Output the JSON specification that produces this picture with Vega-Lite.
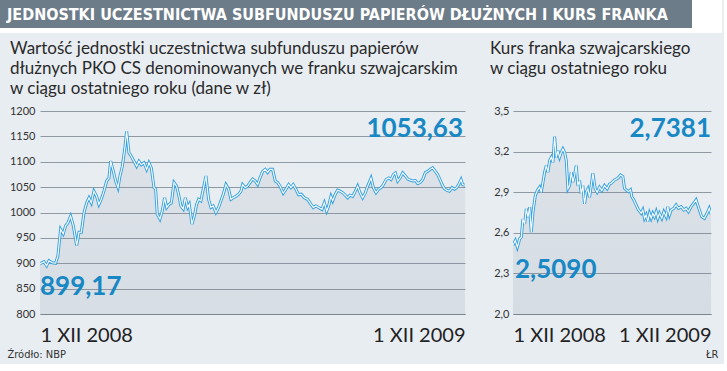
{
  "$schema": "https://vega.github.io/schema/vega-lite/v6.json",
  "background": "#e8edf2",
  "padding": {"left": 0, "top": 0, "right": 2, "bottom": 5},
  "config": {
    "view": {"stroke": null},
    "font": "Lato",
    "axis": {"labelFont": "Lato", "labelColor": "#2a2a2a"}
  },
  "spacing": 7,
  "vconcat": [
    {
      "width": 652,
      "height": 33,
      "encoding": {
        "x": {"field": "x0", "type": "quantitative", "scale": {"domain": [0, 652], "nice": false, "zero": false}, "axis": null},
        "y": {"field": "y0", "type": "quantitative", "scale": {"domain": [0, 33], "nice": false}, "axis": null}
      },
      "layer": [
        {
          "data": {"values": [{"x0": -40, "x1": 682, "y0": 0, "y1": 33}]},
          "mark": {"type": "rect", "color": "#ffffff", "clip": false},
          "encoding": {"x2": {"field": "x1"}, "y2": {"field": "y1"}}
        },
        {
          "data": {"values": [{"x0": -40, "x1": 652, "y0": 5, "y1": 33}]},
          "mark": {"type": "rect", "color": "#6d7c89", "clip": false},
          "encoding": {"x2": {"field": "x1"}, "y2": {"field": "y1"}}
        },
        {
          "data": {"values": [{"x0": -40, "y0": 19, "t": "JEDNOSTKI UCZESTNICTWA SUBFUNDUSZU PAPIERÓW DŁUŻNYCH I KURS FRANKA"}]},
          "mark": {"type": "text", "align": "left", "baseline": "middle", "dx": 7, "dy": 1, "font": "DejaVu Sans Condensed", "fontWeight": "bold", "fontSize": 16, "color": "#ffffff"},
          "encoding": {"text": {"field": "t"}}
        }
      ]
    },
    {
      "spacing": 18,
      "hconcat": [
        {
          "width": 425,
          "height": 203,
          "title": {
            "text": ["Wartość jednostki uczestnictwa subfunduszu papierów", "dłużnych PKO CS denominowanych we franku szwajcarskim", "w ciągu ostatniego roku (dane w zł)"],
            "anchor": "start", "frame": "bounds", "dx": 10, "fontSize": 17, "lineHeight": 20,
            "font": "Lato", "fontWeight": "normal", "color": "#2a2a2a", "offset": 7
          },
          "data": {"values": [
            {"d":0,"v":899.17},{"d":3.4,"v":903},{"d":5.7,"v":895},{"d":7.7,"v":905},{"d":10.6,"v":901},{"d":13.4,"v":900},{"d":15.4,"v":915},{"d":17.7,"v":967},{"d":20,"v":958},{"d":22,"v":974},{"d":24,"v":980},{"d":26.3,"v":993},{"d":28.6,"v":974},{"d":31.5,"v":935},{"d":33.5,"v":961},{"d":35.5,"v":961},{"d":37.8,"v":1000},{"d":40.1,"v":1019},{"d":42.1,"v":1029},{"d":44.1,"v":1019},{"d":46.3,"v":1042},{"d":48.6,"v":1032},{"d":50.6,"v":1016},{"d":52.6,"v":1026},{"d":54.9,"v":1042},{"d":57.2,"v":1062},{"d":59.2,"v":1068},{"d":60.7,"v":1101},{"d":63,"v":1081},{"d":65,"v":1062},{"d":67,"v":1049},{"d":68.7,"v":1072},{"d":70.7,"v":1091},{"d":72.7,"v":1124},{"d":74.4,"v":1160},{"d":76.4,"v":1118},{"d":78.4,"v":1111},{"d":80.7,"v":1101},{"d":83,"v":1091},{"d":85,"v":1101},{"d":87,"v":1094},{"d":89.3,"v":1098},{"d":91.6,"v":1085},{"d":93.6,"v":1098},{"d":95.6,"v":1088},{"d":97.9,"v":1049},{"d":99.3,"v":1046},{"d":100.7,"v":997},{"d":103,"v":987},{"d":105,"v":1003},{"d":107,"v":1029},{"d":108.8,"v":1010},{"d":110.8,"v":1016},{"d":112.8,"v":1019},{"d":115.1,"v":1059},{"d":117.3,"v":1052},{"d":119.4,"v":1032},{"d":121,"v":1013},{"d":123,"v":1007},{"d":124.8,"v":1029},{"d":126.8,"v":1010},{"d":128.2,"v":1016},{"d":130.5,"v":977},{"d":132.5,"v":993},{"d":134.5,"v":1016},{"d":136.2,"v":1026},{"d":138.2,"v":1023},{"d":140.2,"v":1046},{"d":142.5,"v":1072},{"d":144.8,"v":1026},{"d":146.8,"v":1010},{"d":148.8,"v":1013},{"d":151.1,"v":1000},{"d":153.4,"v":1010},{"d":155.4,"v":1023},{"d":157.4,"v":1036},{"d":159.7,"v":1055},{"d":162,"v":1046},{"d":164,"v":1026},{"d":166,"v":1029},{"d":168.3,"v":1032},{"d":170.6,"v":1036},{"d":172.6,"v":1042},{"d":174,"v":1055},{"d":176.3,"v":1049},{"d":178.3,"v":1052},{"d":180.3,"v":1059},{"d":182.6,"v":1066},{"d":184.9,"v":1062},{"d":186.9,"v":1055},{"d":188.9,"v":1068},{"d":191.2,"v":1081},{"d":193.5,"v":1085},{"d":195.5,"v":1079},{"d":197.5,"v":1085},{"d":199.8,"v":1085},{"d":202.1,"v":1062},{"d":204.1,"v":1059},{"d":206.1,"v":1052},{"d":208.9,"v":1038},{"d":211.2,"v":1046},{"d":213.5,"v":1055},{"d":215.5,"v":1049},{"d":217.5,"v":1055},{"d":219.8,"v":1046},{"d":222.1,"v":1035},{"d":224.4,"v":1036},{"d":227,"v":1029},{"d":229.8,"v":1026},{"d":232.7,"v":1016},{"d":234.7,"v":1010},{"d":237,"v":1013},{"d":239.3,"v":1010},{"d":242.1,"v":1006},{"d":244.2,"v":1019},{"d":246.2,"v":1003},{"d":247.9,"v":1013},{"d":249.9,"v":1032},{"d":251.4,"v":1023},{"d":253.6,"v":1036},{"d":255.6,"v":1044},{"d":257.7,"v":1042},{"d":259.9,"v":1039},{"d":262.2,"v":1034},{"d":264.2,"v":1029},{"d":266.2,"v":1034},{"d":268.5,"v":1032},{"d":270.8,"v":1042},{"d":272.8,"v":1052},{"d":274.8,"v":1039},{"d":277.1,"v":1029},{"d":279.4,"v":1039},{"d":281.4,"v":1052},{"d":284.3,"v":1068},{"d":286.3,"v":1049},{"d":288.6,"v":1039},{"d":290.9,"v":1046},{"d":292.9,"v":1049},{"d":294.9,"v":1055},{"d":297.2,"v":1065},{"d":299.5,"v":1068},{"d":301.5,"v":1065},{"d":303.5,"v":1075},{"d":305.2,"v":1078},{"d":307.2,"v":1062},{"d":309.2,"v":1068},{"d":311.5,"v":1078},{"d":313.8,"v":1072},{"d":315.8,"v":1066},{"d":317.8,"v":1064},{"d":320.1,"v":1062},{"d":322.4,"v":1063},{"d":324.4,"v":1057},{"d":326.4,"v":1059},{"d":328.7,"v":1065},{"d":331,"v":1079},{"d":333,"v":1081},{"d":335,"v":1085},{"d":337.2,"v":1088},{"d":339.5,"v":1081},{"d":341.5,"v":1075},{"d":343.5,"v":1065},{"d":345.3,"v":1055},{"d":347.3,"v":1047},{"d":349.3,"v":1044},{"d":351.6,"v":1042},{"d":353.9,"v":1049},{"d":355.9,"v":1046},{"d":357.9,"v":1049},{"d":359.6,"v":1055},{"d":361.6,"v":1065},{"d":363,"v":1055},{"d":365,"v":1053.63}
          ]},
          "encoding": {
            "x": {"field": "d", "type": "quantitative", "scale": {"domain": [0, 365], "nice": false},
              "axis": {"values": [0, 365], "labelExpr": "datum.value == 0 ? '1 XII 2008' : '1 XII 2009'", "labelFlush": true, "grid": false, "ticks": false, "domain": true, "domainColor": "#7d868e", "labelFontSize": 20, "labelColor": "#222222", "labelPadding": 11,
                "title": "Źródło: NBP", "titleAlign": "left", "titleX": -33, "titleY": 43, "titleFontSize": 11, "titleFont": "DejaVu Sans Condensed", "titleFontWeight": "normal", "titleColor": "#333333", "titleBaseline": "alphabetic"}},
            "y": {"field": "v", "type": "quantitative", "scale": {"domain": [800, 1200], "zero": false, "nice": false},
              "axis": {"values": [800, 850, 900, 950, 1000, 1050, 1100, 1150, 1200], "format": "d", "grid": true, "gridColor": "#8f99a2", "ticks": false, "domain": false, "labelFontSize": 11, "labelColor": "#333333", "labelPadding": 5, "minExtent": 40, "maxExtent": 40, "title": null}}
          },
          "layer": [
            {"mark": {"type": "area", "clip": true, "color": {"gradient": "linear", "x1": 0, "y1": 0, "x2": 0, "y2": 1, "stops": [{"offset": 0, "color": "rgba(120,135,150,0.10)"}, {"offset": 1, "color": "rgba(120,135,150,0.26)"}]}}},
            {"mark": {"type": "line", "color": "#36a2dd", "strokeWidth": 3, "clip": true}},
            {"mark": {"type": "line", "color": "#ffffff", "strokeWidth": 1.1, "clip": true}},
            {"data": {"values": [{"d": 0, "v": 837, "t": "899,17"}]},
             "mark": {"type": "text", "align": "left", "baseline": "alphabetic", "font": "Lato", "fontWeight": "bold", "fontSize": 26, "color": "#1888c5"},
             "encoding": {"text": {"field": "t"}}},
            {"data": {"values": [{"d": 365, "v": 1148, "t": "1053,63"}]},
             "mark": {"type": "text", "align": "right", "baseline": "alphabetic", "dx": -2, "font": "Lato", "fontWeight": "bold", "fontSize": 26, "color": "#1888c5"},
             "encoding": {"text": {"field": "t"}}}
          ]
        },
        {
          "width": 198,
          "height": 203,
          "title": {
            "text": ["Kurs franka szwajcarskiego", "w ciągu ostatniego roku", " "],
            "anchor": "start", "frame": "bounds", "dx": 7, "fontSize": 17, "lineHeight": 20,
            "font": "Lato", "fontWeight": "normal", "color": "#2a2a2a", "offset": 7
          },
          "data": {"values": [
            {"d":0,"v":2.509},{"d":4.3,"v":2.543},{"d":8,"v":2.494},{"d":12.3,"v":2.556},{"d":15.3,"v":2.568},{"d":18.4,"v":2.703},{"d":21.5,"v":2.666},{"d":24.5,"v":2.777},{"d":27.6,"v":2.716},{"d":30.7,"v":2.789},{"d":33.7,"v":2.605},{"d":36.8,"v":2.752},{"d":41.1,"v":2.875},{"d":44.8,"v":2.912},{"d":49.1,"v":2.937},{"d":52.2,"v":2.9},{"d":55.2,"v":2.974},{"d":58.3,"v":3.048},{"d":61.4,"v":3.097},{"d":64.4,"v":3.048},{"d":67.5,"v":3.134},{"d":70.6,"v":3.158},{"d":73.6,"v":3.121},{"d":76.7,"v":3.31},{"d":79.8,"v":3.158},{"d":82.8,"v":3.207},{"d":85.9,"v":3.158},{"d":89,"v":3.195},{"d":92,"v":3.22},{"d":95.1,"v":3.195},{"d":98.2,"v":3.134},{"d":101.2,"v":2.925},{"d":104.3,"v":2.949},{"d":107.4,"v":3.048},{"d":110.4,"v":2.974},{"d":113.5,"v":3.023},{"d":116.6,"v":3.097},{"d":119.6,"v":2.949},{"d":122.7,"v":2.986},{"d":125.8,"v":2.888},{"d":128.8,"v":2.949},{"d":131.9,"v":2.814},{"d":135,"v":2.9},{"d":138,"v":2.925},{"d":141.1,"v":2.863},{"d":144.2,"v":2.949},{"d":147.2,"v":3.04},{"d":151.5,"v":2.925},{"d":155.2,"v":2.9},{"d":159.5,"v":2.937},{"d":163.8,"v":2.912},{"d":168.7,"v":2.949},{"d":173.6,"v":2.925},{"d":177.9,"v":2.96},{"d":181,"v":2.966},{"d":187.2,"v":2.99},{"d":193.3,"v":3.003},{"d":198.2,"v":3.027},{"d":202.5,"v":3.015},{"d":205.6,"v":2.929},{"d":208.6,"v":2.917},{"d":212.9,"v":2.904},{"d":216.6,"v":2.917},{"d":219.1,"v":2.867},{"d":222.8,"v":2.843},{"d":227,"v":2.806},{"d":231.3,"v":2.769},{"d":236.3,"v":2.744},{"d":239.3,"v":2.769},{"d":242.4,"v":2.707},{"d":245.5,"v":2.732},{"d":248.5,"v":2.682},{"d":251.6,"v":2.744},{"d":254.7,"v":2.707},{"d":257.7,"v":2.744},{"d":260.8,"v":2.719},{"d":263.9,"v":2.756},{"d":266.9,"v":2.707},{"d":270,"v":2.744},{"d":274.3,"v":2.707},{"d":278,"v":2.756},{"d":282.3,"v":2.719},{"d":285.3,"v":2.793},{"d":288.4,"v":2.732},{"d":291.5,"v":2.769},{"d":296.4,"v":2.781},{"d":300.7,"v":2.806},{"d":305,"v":2.781},{"d":309.9,"v":2.793},{"d":314.8,"v":2.769},{"d":319.1,"v":2.781},{"d":323.4,"v":2.756},{"d":328.3,"v":2.793},{"d":333.2,"v":2.818},{"d":337.5,"v":2.843},{"d":340.5,"v":2.806},{"d":343.6,"v":2.769},{"d":347.9,"v":2.719},{"d":352.8,"v":2.707},{"d":357.7,"v":2.744},{"d":361.8,"v":2.781},{"d":365,"v":2.7381}
          ]},
          "encoding": {
            "x": {"field": "d", "type": "quantitative", "scale": {"domain": [0, 365], "nice": false},
              "axis": {"values": [0, 365], "labelExpr": "datum.value == 0 ? '1 XII 2008' : '1 XII 2009'", "labelFlush": true, "grid": false, "ticks": false, "domain": true, "domainColor": "#7d868e", "labelFontSize": 20, "labelColor": "#222222", "labelPadding": 11,
                "title": "ŁR", "titleAlign": "right", "titleX": 205, "titleY": 43, "titleFontSize": 11, "titleFont": "DejaVu Sans Condensed", "titleFontWeight": "normal", "titleColor": "#333333", "titleBaseline": "alphabetic"}},
            "y": {"field": "v", "type": "quantitative", "scale": {"domain": [2, 3.5], "zero": false, "nice": false},
              "axis": {"values": [2, 2.3, 2.6, 2.9, 3.2, 3.5], "labelExpr": "replace(format(datum.value, '.1f'), '.', ',')", "grid": true, "gridColor": "#8f99a2", "ticks": false, "domain": false, "labelFontSize": 11, "labelColor": "#333333", "labelPadding": 4, "minExtent": 30, "maxExtent": 30, "title": null}}
          },
          "layer": [
            {"mark": {"type": "area", "clip": true, "color": {"gradient": "linear", "x1": 0, "y1": 0, "x2": 0, "y2": 1, "stops": [{"offset": 0, "color": "rgba(120,135,150,0.10)"}, {"offset": 1, "color": "rgba(120,135,150,0.26)"}]}}},
            {"mark": {"type": "line", "color": "#36a2dd", "strokeWidth": 3, "clip": true}},
            {"mark": {"type": "line", "color": "#ffffff", "strokeWidth": 1.1, "clip": true}},
            {"data": {"values": [{"d": 0, "v": 2.268, "t": "2,5090"}]},
             "mark": {"type": "text", "align": "left", "baseline": "alphabetic", "dx": 2, "font": "Lato", "fontWeight": "bold", "fontSize": 26, "color": "#1888c5"},
             "encoding": {"text": {"field": "t"}}},
            {"data": {"values": [{"d": 365, "v": 3.308, "t": "2,7381"}]},
             "mark": {"type": "text", "align": "right", "baseline": "alphabetic", "font": "Lato", "fontWeight": "bold", "fontSize": 26, "color": "#1888c5"},
             "encoding": {"text": {"field": "t"}}}
          ]
        }
      ]
    }
  ]
}
